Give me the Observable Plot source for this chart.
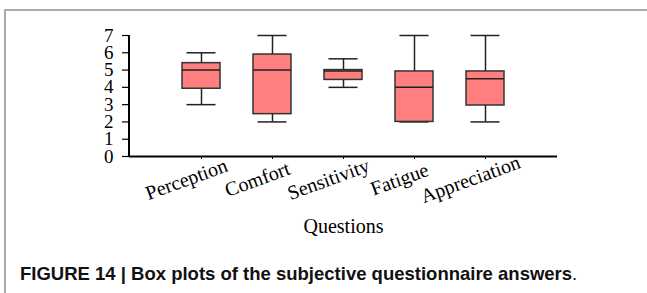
<!DOCTYPE html>
<html><head><meta charset="utf-8">
<script src="https://cdn.jsdelivr.net/npm/d3@7"></script>
<script src="https://cdn.jsdelivr.net/npm/@observablehq/plot@0.6"></script>
<style>
html,body{margin:0;padding:0;background:#fff;width:647px;height:293px;overflow:hidden;}
#frame{position:absolute;left:4px;top:9px;width:700px;height:300px;border-left:2px solid #aaa;border-top:2px solid #aaa;}
#chart{position:absolute;left:0;top:0;}
#caption{position:absolute;left:20px;top:265px;line-height:1;white-space:nowrap;font-family:"Liberation Sans",Arial,sans-serif;font-weight:bold;font-size:18.5px;color:#111;}
</style></head><body>
<div id="frame"></div>
<div id="chart"></div>
<div id="caption">FIGURE 14 | Box plots of the subjective questionnaire answers<span style="font-weight:normal">.</span></div>
<script>
const questions = ["Perception", "Comfort", "Sensitivity", "Fatigue", "Appreciation"];
const mins    = [3,    2,    4,    2,    2];
const q1s     = [3.92, 2.45, 4.43, 2,    2.95];
const medians = [5,    5,    4.95, 4,    4.5];
const q3s     = [5.4,  5.9,  5,    4.92, 4.92];
const maxs    = [6,    7,    5.65, 7,    7];
const yTicks  = [0, 1, 2, 3, 4, 5, 6, 7];
const xLabel  = "Questions";

const rows = questions.map((q, i) => ({q, min: mins[i], q1: q1s[i], med: medians[i], q3: q3s[i], max: maxs[i]}));
const lineColor = "#222";

const leftAxisLine = (index, scales, values, dims) => {
  const l = document.createElementNS("http://www.w3.org/2000/svg", "line");
  l.setAttribute("x1", dims.marginLeft);
  l.setAttribute("x2", dims.marginLeft);
  l.setAttribute("y1", dims.marginTop);
  l.setAttribute("y2", dims.height - dims.marginBottom + 1);
  l.setAttribute("stroke", "#000");
  l.setAttribute("stroke-width", 2);
  return l;
};

const chart = Plot.plot({
  width: 647, height: 240,
  marginLeft: 129, marginRight: 90, marginTop: 35, marginBottom: 84,
  style: {fontFamily: "'Liberation Serif', 'Times New Roman', serif", fontSize: "19px", color: "#000", background: "transparent", overflow: "visible"},
  x: {type: "band", domain: questions, paddingInner: 0.47, paddingOuter: 0.71, axis: null},
  y: {domain: [0, 7], axis: null},
  marks: [
    Plot.ruleX(rows, {x: "q", y1: "min", y2: "q1", stroke: lineColor, strokeWidth: 1.5}),
    Plot.ruleX(rows, {x: "q", y1: "q3", y2: "max", stroke: lineColor, strokeWidth: 1.5}),
    Plot.tickY(rows, {x: "q", y: "min", stroke: lineColor, strokeWidth: 1.5, insetLeft: 4.5, insetRight: 4.5}),
    Plot.tickY(rows, {x: "q", y: "max", stroke: lineColor, strokeWidth: 1.5, insetLeft: 4.5, insetRight: 4.5}),
    Plot.barY(rows, {x: "q", y1: "q1", y2: "q3", fill: "#ff7f7f", stroke: "#333", strokeWidth: 1.5}),
    Plot.tickY(rows, {x: "q", y: "med", stroke: lineColor, strokeWidth: 1.5}),
    Plot.axisY({ticks: yTicks, tickFormat: "d", tickSize: 7, tickPadding: 9, fontSize: 19, label: null, strokeWidth: 1.2}),
    Plot.axisX({tickSize: 3, tickFormat: () => "", label: null, strokeWidth: 1}),
    Plot.ruleY([0], {stroke: "#000", strokeWidth: 2}),
    leftAxisLine,
    Plot.text(questions, {x: d => d, frameAnchor: "bottom", dy: 23, dx: -15, rotate: -20, textAnchor: "middle", lineAnchor: "middle", fontSize: 20}),
    Plot.text([xLabel], {frameAnchor: "bottom", dy: 70, textAnchor: "middle", lineAnchor: "middle", fontSize: 20})
  ]
});
document.getElementById("chart").appendChild(chart);
</script>
</body></html>
